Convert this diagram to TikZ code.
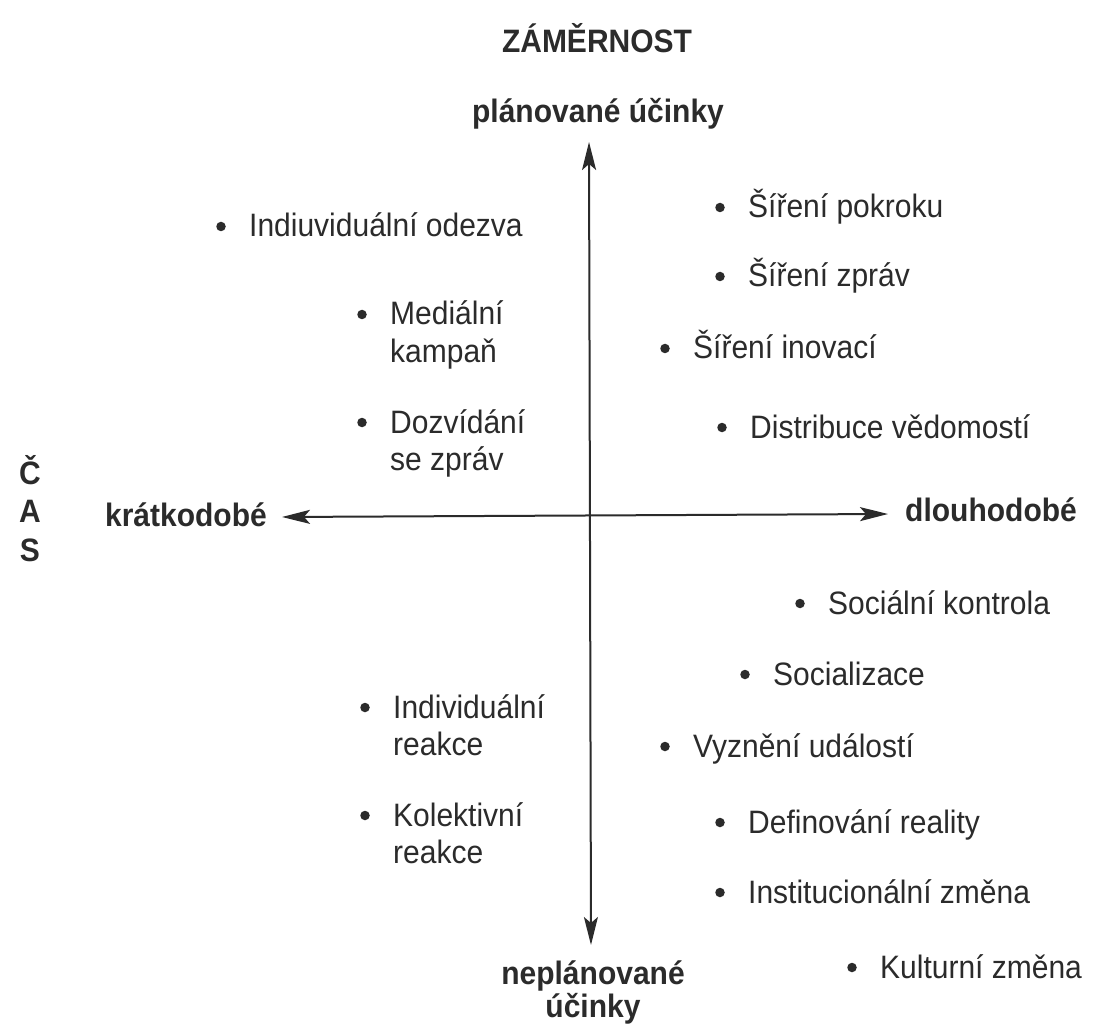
\documentclass[tikz,border=0pt]{standalone}
\usepackage{fontspec}
\setmainfont{Liberation Sans}
\usetikzlibrary{arrows.meta}
\definecolor{ink}{gray}{0.17}
\begin{document}
\begin{tikzpicture}[x=1pt,y=1pt,
  txt/.style={anchor=base west, inner sep=0pt, text=ink, yscale=1.08, font=\fontsize{30}{34.5}\selectfont},
  lbl/.style={inner sep=0pt, text=ink, yscale=1.08, font=\fontsize{30}{35}\selectfont\bfseries},
  dot/.style={circle, fill=ink, minimum size=9.5pt, inner sep=0pt},
  axis/.style={draw=ink, line width=2pt, {Stealth[length=28pt,width=14pt,inset=6pt]}-{Stealth[length=28pt,width=14pt,inset=6pt]}}]
\fill[white] (0,0) rectangle (1106,-1032);
\useasboundingbox (0,0) rectangle (1106,-1032);

% axis labels
\node[lbl, anchor=base] (zam) at (597,-53) {ZÁMĚRNOST};
\node[lbl, anchor=base] (plan) at (598,-123) {plánované účinky};
\node[lbl, anchor=base, font=\fontsize{30}{30}\selectfont\bfseries] (neplan) at (593,-984)
  {\begin{tabular}[t]{@{}c@{}}neplánované\\účinky\end{tabular}};
\node[lbl, anchor=base east] (kratk) at (267,-526) {krátkodobé};
\node[lbl, anchor=base west] (dlouh) at (905,-521) {dlouhodobé};
\node[lbl, anchor=base, font=\fontsize{30}{36}\selectfont\bfseries] (cas) at (30,-484)
  {\begin{tabular}[t]{@{}c@{}}Č\\A\\S\end{tabular}};

% axes
\coordinate (T) at (589,-142);
\coordinate (B) at (591,-945);
\coordinate (L) at (282,-517);
\coordinate (R) at (888,-514);
\draw[axis] (L) -- (R);
\draw[axis] (T) -- (B);

% items, upper left
\node[txt] (i1) at (249,-237) {Indiuviduální odezva};
\node[txt] (i2) at (390,-325) {\begin{tabular}[t]{@{}l@{}}Mediální\\kampaň\end{tabular}};
\node[txt] (i3) at (390,-433) {\begin{tabular}[t]{@{}l@{}}Dozvídání\\se zpráv\end{tabular}};
% upper right
\node[txt] (i4) at (748,-218) {Šíření pokroku};
\node[txt] (i5) at (748,-287) {Šíření zpráv};
\node[txt] (i6) at (693,-359) {Šíření inovací};
\node[txt] (i7) at (750,-438) {Distribuce vědomostí};
% lower right
\node[txt] (i8) at (828,-614) {Sociální kontrola};
\node[txt] (i9) at (773,-685) {Socializace};
\node[txt] (i10) at (693,-757) {Vyznění událostí};
\node[txt] (i11) at (748,-833) {Definování reality};
\node[txt] (i12) at (748,-903) {Institucionální změna};
\node[txt] (i13) at (880,-978) {Kulturní změna};
% lower left
\node[txt] (i14) at (393,-718) {\begin{tabular}[t]{@{}l@{}}Individuální\\reakce\end{tabular}};
\node[txt] (i15) at (393,-826) {\begin{tabular}[t]{@{}l@{}}Kolektivní\\reakce\end{tabular}};

% bullets
\foreach \n in {i1,i2,i3,i4,i5,i6,i7,i8,i9,i10,i11,i12,i13,i14,i15}
  \node[dot] (b\n) at ([shift={(-28,10.5)}]\n.base west) {};
\end{tikzpicture}
\end{document}
